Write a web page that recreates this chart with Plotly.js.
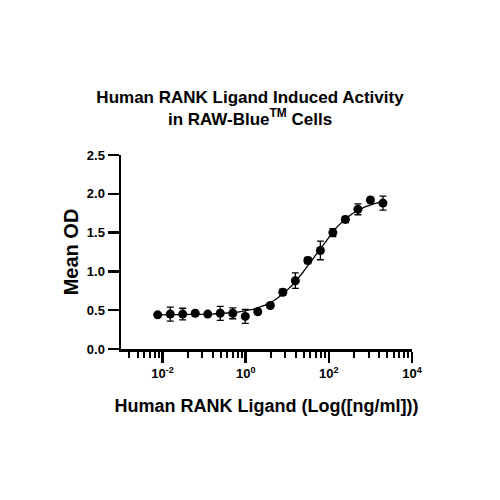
<!DOCTYPE html>
<html>
<head>
<meta charset="utf-8">
<script src="https://cdn.plot.ly/plotly-3.0.1.min.js"></script>
<style>html,body{margin:0;padding:0;background:#fff;}#chart{width:500px;height:500px;}</style>
</head>
<body>
<div id="chart"></div>
<script>
// Concentrations (ng/ml), 2-fold dilution series
const conc = [0.00763, 0.0153, 0.0305, 0.061, 0.122, 0.244, 0.488, 0.977, 1.95, 3.91, 7.81, 15.63, 31.25, 62.5, 125, 250, 500, 1000, 2000];
// Mean OD values
const meanOD = [0.44, 0.45, 0.45, 0.46, 0.45, 0.46, 0.46, 0.42, 0.48, 0.56, 0.73, 0.88, 1.14, 1.27, 1.50, 1.67, 1.80, 1.92, 1.88];
// Error (SD) values
const errOD = [0.02, 0.09, 0.075, 0.03, 0.02, 0.09, 0.07, 0.09, 0.02, 0.03, 0.04, 0.10, 0.04, 0.12, 0.05, 0.04, 0.07, 0.03, 0.09];

// 4-parameter logistic fit parameters (estimated from the drawn curve)
const fitBottom = 0.44;
const fitTop = 1.95;
const fitEC50 = 45;
const fitHill = 0.88;

// Axis ticks
const xMajorTickVals = [0.01, 1, 100, 10000];
const xMajorTickText = ['10<sup>-2</sup>', '10<sup>0</sup>', '10<sup>2</sup>', '10<sup>4</sup>'];
const minorMultipliers = [2, 3, 4, 5, 6, 7, 8, 9];
const yTickVals = [0, 0.5, 1.0, 1.5, 2.0, 2.5];

// Minor tick positions (GraphPad-style: 2..9 spread over each 2-decade major interval)
const xMinorTickVals = [];
[0.0001, 0.01, 1, 100].forEach(base => {
  minorMultipliers.forEach(k => {
    const v = base * k * k;
    if (v > 0.001 && v < 10000) xMinorTickVals.push(v);
  });
});

// Fitted curve
function fourPL(x) {
  return fitBottom + (fitTop - fitBottom) / (1 + Math.pow(fitEC50 / x, fitHill));
}
const curveX = [];
const curveY = [];
const lo = Math.log10(conc[0]), hi = Math.log10(conc[conc.length - 1]);
for (let i = 0; i <= 300; i++) {
  const x = Math.pow(10, lo + (hi - lo) * i / 300);
  curveX.push(x);
  curveY.push(fourPL(x));
}

const fontFamily = 'Arial, "Liberation Sans", Helvetica, sans-serif';

const traces = [
  {
    x: curveX, y: curveY, type: 'scatter', mode: 'lines',
    line: {color: '#000', width: 1.3}, hoverinfo: 'skip', showlegend: false
  },
  {
    x: conc, y: meanOD, type: 'scatter', mode: 'markers',
    marker: {color: '#000', size: 9, symbol: 'circle'},
    error_y: {type: 'data', array: errOD, visible: true, color: '#000', thickness: 1.3, width: 3.5},
    showlegend: false
  }
];

const layout = {
  width: 500, height: 500,
  paper_bgcolor: '#fff', plot_bgcolor: '#fff',
  margin: {l: 121, r: 88, t: 155, b: 151, pad: 0},
  font: {family: fontFamily, color: '#000'},
  title: {
    text: 'Human RANK Ligand Induced Activity<br>in RAW-Blue<sup>TM</sup> Cells',
    font: {family: fontFamily, size: 17, weight: 'bold', color: '#000'},
    x: 0.5, xanchor: 'center', xref: 'container',
    y: 0.795, yanchor: 'top', yref: 'container'
  },
  xaxis: {
    type: 'log', range: [-3, 4],
    tickmode: 'array', tickvals: xMajorTickVals, ticktext: xMajorTickText,
    ticks: 'outside', ticklen: 11, tickwidth: 2.5, tickcolor: '#000',
    showline: true, linecolor: '#000', linewidth: 2.5,
    showgrid: false, zeroline: false,
    tickfont: {family: fontFamily, size: 13, weight: 'bold', color: '#000'},
    minor: {tickmode: 'array', tickvals: xMinorTickVals, ticks: 'outside', ticklen: 6, tickwidth: 2, tickcolor: '#000', showgrid: false},
    title: {text: 'Human RANK Ligand (Log([ng/ml]))', font: {family: fontFamily, size: 18, weight: 'bold', color: '#000'}, standoff: 20}
  },
  yaxis: {
    range: [0, 2.5],
    tickmode: 'array', tickvals: yTickVals, tickformat: '.1f',
    ticks: 'outside', ticklen: 11, tickwidth: 2.5, tickcolor: '#000',
    showline: true, linecolor: '#000', linewidth: 2.5,
    showgrid: false, zeroline: false,
    tickfont: {family: fontFamily, size: 13, weight: 'bold', color: '#000'},
    title: {text: 'Mean OD', font: {family: fontFamily, size: 20, weight: 'bold', color: '#000'}, standoff: 3}
  }
};

Plotly.newPlot('chart', traces, layout, {displayModeBar: false, staticPlot: true});
</script>
</body>
</html>
